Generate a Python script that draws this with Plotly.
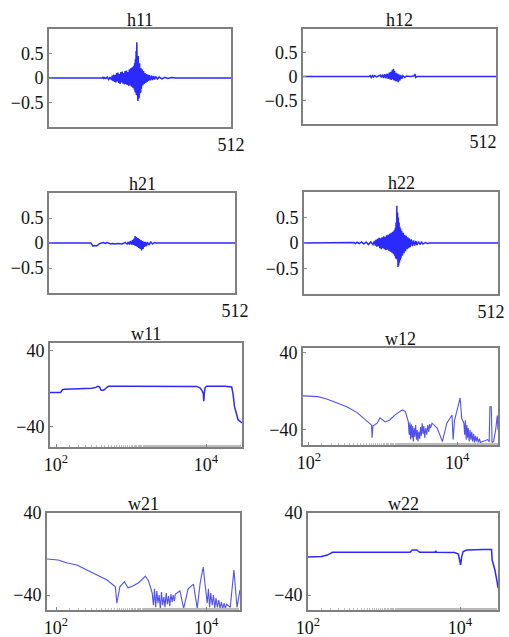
import plotly.graph_objects as go

W, H = 509, 637

# ---------------- data ----------------
h11_n = [0, 150, 152, 154, 156, 160, 164, 168, 172, 176, 178, 180, 182, 184, 186, 188, 190, 192, 194, 196, 198,
         200, 202, 204, 206, 208, 210, 212, 214, 216, 218, 220, 222, 224, 226, 228, 230, 232, 234, 236, 238,
         240, 241, 242, 243, 244, 245, 246, 247, 248, 249, 250, 251, 252, 253, 254, 255, 256, 257, 258, 259,
         260, 262, 264, 266, 268, 270, 272, 274, 276, 278, 280, 282, 285, 288, 291, 294, 297, 300, 305, 310,
         318, 326, 334, 345, 355, 512]
h11_v = [0, 0, 0.02, -0.02, 0.01, -0.01, 0.02, -0.03, 0.02, -0.04, 0.05, -0.06, 0.07, -0.08, 0.06, -0.09, 0.1, -0.07, 0.11, -0.1, 0.08,
         -0.12, 0.12, -0.09, 0.13, -0.11, 0.1, -0.13, 0.14, -0.12, 0.15, -0.14, 0.12, -0.16, 0.18, -0.15, 0.2, -0.18, 0.22, -0.2, 0.25,
         -0.24, 0.3, -0.28, 0.38, -0.3, 0.55, -0.35, 0.73, -0.2, 0.62, -0.47, 0.45, -0.42, 0.35, -0.38, 0.3, -0.3, 0.25, -0.28, 0.2,
         -0.22, 0.18, -0.15, 0.14, -0.12, 0.1, -0.1, 0.08, -0.08, 0.07, -0.06, 0.06, -0.05, 0.05, -0.04, 0.04, -0.03, 0.03, -0.02, 0.02,
         -0.02, 0.015, -0.01, 0.01, 0, 0]

h12_n = [0, 175, 178, 181, 184, 187, 190, 195, 200, 205, 208, 211, 214, 217, 220, 223, 226, 229, 231, 233, 235, 237,
         239, 240, 241, 243, 245, 247, 249, 251, 253, 255, 257, 259, 262, 265, 270, 275, 285, 294, 297, 299, 302, 512]
h12_v = [0, 0, 0.02, -0.02, 0.02, -0.01, 0.02, -0.01, 0.01, 0.03, -0.02, 0.04, -0.03, 0.05, -0.04, 0.06, -0.05, 0.08, -0.06, 0.1, -0.07, 0.14,
         -0.05, 0.16, -0.08, 0.12, -0.1, 0.08, -0.1, 0.06, -0.12, 0.04, -0.08, 0.03, -0.05, 0.02, -0.02, 0.01, 0, 0.01, 0.05, -0.02, 0, 0]

h21_n = [0, 115, 118, 121, 125, 130, 135, 140, 145, 150, 155, 160, 170, 175, 180, 190, 200, 210, 215, 218, 221, 224,
         227, 230, 232, 234, 236, 237, 239, 241, 243, 245, 247, 249, 251, 253, 255, 257, 259, 261, 263, 265, 268,
         271, 275, 280, 285, 290, 295, 512]
h21_v = [0, 0, -0.03, -0.06, -0.05, -0.06, -0.04, -0.01, 0, 0.01, -0.01, 0.01, -0.02, -0.01, -0.02, -0.01, -0.02, 0.01, -0.02, 0.02, -0.03, 0.04,
         -0.03, 0.06, -0.04, 0.09, -0.05, 0.14, -0.06, 0.12, -0.08, 0.1, -0.1, 0.08, -0.12, 0.06, -0.15, 0.04, -0.12, 0.03, -0.08, 0.02, -0.06,
         0.02, -0.04, 0.02, -0.02, 0.01, 0, 0]

h22_n = [0, 128, 132, 136, 140, 146, 152, 158, 164, 170, 176, 182, 186, 188, 190, 192, 194, 196, 198, 200, 202, 204,
         206, 208, 210, 212, 214, 216, 218, 220, 222, 224, 226, 228, 230, 232, 234, 236, 238, 240, 241, 242, 243,
         244, 245, 246, 247, 248, 249, 250, 251, 252, 253, 254, 255, 256, 258, 260, 262, 264, 266, 268, 270, 272,
         274, 276, 278, 280, 283, 286, 289, 292, 295, 298, 302, 306, 310, 314, 320, 326, 332, 512]
h22_v = [0, 0, 0.01, -0.01, 0.015, -0.01, 0.02, -0.02, 0.02, -0.03, 0.02, -0.03, 0.04, -0.05, 0.06, -0.07, 0.08, -0.06, 0.1, -0.1, 0.09, -0.12,
         0.11, -0.1, 0.13, -0.12, 0.12, -0.14, 0.15, -0.13, 0.16, -0.15, 0.18, -0.17, 0.2, -0.19, 0.22, -0.22, 0.25, -0.26, 0.3, -0.3, 0.4,
         -0.32, 0.73, -0.3, 0.6, -0.47, 0.5, -0.44, 0.4, -0.38, 0.32, -0.34, 0.28, -0.3, 0.24, -0.25, 0.2, -0.2, 0.16, -0.16, 0.14, -0.12,
         0.11, -0.1, 0.09, -0.08, 0.07, -0.06, 0.05, -0.05, 0.04, -0.04, 0.03, -0.03, 0.02, -0.02, 0.01, -0.01, 0, 0]

w11_f = [83, 100, 115, 122, 130, 200, 300, 340, 360, 380, 400, 430, 470, 500, 1000, 2000, 3000, 5000, 7500,
         8300, 8800, 9200, 9350, 9500, 9700, 10200, 13000, 18000, 22000, 22900, 24000, 25700, 26800, 30200]
w11_db = [-4, -4, -3.8, -1, -0.5, 0, 0.5, 1.5, 2.7, 2, -1.5, -1.6, 1, 2.7, 2.7, 2.5, 3, 2.7, 2.5,
          1, -1.6, -5, -13, -4, 1, 2.7, 2.9, 2.7, 2, -5, -18.7, -28, -32.5, -35.7]

w12_f = [83, 132, 174, 240, 324, 447, 575, 700, 710, 730, 830, 910, 1070, 1230, 1450, 1820, 2000, 2190,
         2250, 2300, 2350, 2400, 2450, 2500, 2560, 2620, 2680, 2750, 2820, 2890, 2960, 3040, 3120, 3200, 3280,
         3370, 3460, 3550, 3650, 3760, 3880, 4000, 4130, 4250, 4370,
         4570, 5370, 6310, 7240, 8510, 8800, 9200, 10000, 10960, 11500, 12300,
         12600, 12900, 13200, 13500, 13800, 14100, 14500, 14900, 15300, 15700, 16100, 16600, 17000, 17500,
         18000, 18600, 19200, 19900, 20500,
         22400, 25700, 27000, 27600, 28800, 29500, 30900, 33000, 34700, 35500]
w12_db = [-4.7, -5.4, -7.8, -12, -16, -22, -29.6, -35, -48, -36, -33, -27.5, -31.7, -29.6, -24.4, -19.2, -21, -31.7,
          -45, -32, -50, -34, -48, -36, -52, -38, -47, -35, -50, -40, -52, -42, -49, -37, -46,
          -33, -44, -36, -48, -38, -45, -35, -42, -34, -38,
          -33, -38, -52, -33, -24.4, -50, -30, -19, -6.8, -28, -33,
          -45, -30, -50, -35, -48, -38, -52, -40, -50, -42, -52, -44, -53, -46,
          -52, -47, -53, -49, -53,
          -52, -50, -52, -16, -16, -53, -52, -40, -25, -40]

w21_f = [76, 107, 141, 190, 257, 355, 479, 617, 646, 708, 813, 912, 1070, 1260, 1550, 1700, 1910,
         1980, 2050, 2120, 2200, 2280, 2360, 2450, 2540, 2630, 2730, 2830, 2930, 3040, 3150, 3270, 3390,
         3510, 3640, 3770, 3890,
         4470, 5010, 5750, 6760, 7590, 8320, 9120, 9770,
         10300, 10700, 11100, 11500, 12000, 12500, 13000, 13500, 14100, 14700, 15300, 15900, 16600, 17300,
         18000, 18700,
         20900, 23400, 25700, 28200]
w21_db = [-4.9, -5.9, -8.8, -10.7, -15.6, -20.5, -25.4, -32, -48, -32, -27, -33, -31, -28, -21.5, -26, -38,
          -50, -34, -52, -36, -48, -40, -53, -37, -50, -42, -52, -38, -49, -41, -51, -39,
          -47, -40, -46, -39,
          -36, -53, -34, -29.4, -53, -28, -12.7, -36,
          -48, -34, -52, -38, -50, -40, -53, -43, -52, -45, -53, -47, -53, -48,
          -53, -49,
          -52, -15.6, -52, -35]

w22_f = [100, 150, 180, 210, 500, 1000, 2000, 2200, 2350, 2700, 2950, 4700, 4800, 4900, 8500, 9500, 10200,
         10500, 11000, 12300, 20000, 26000, 26500, 28800, 30900, 31600]
w22_db = [-3, -2.5, -1, 1.7, 1.7, 1.7, 1.7, 1.7, 3.9, 3.9, 1.7, 1.7, 3, 1.7, 1.5, 0, -10.7,
          -3, 2.5, 3.9, 4.5, 4.5, -6, -15.6, -28, -33]

titles = ["h11", "h12", "h21", "h22", "w11", "w12", "w21", "w22"]
h_ticks = [-0.5, 0, 0.5]
w_ticks = [-40, 40]
w_tickvals = [100, 10000]
w_ticktext = ["10<sup>2</sup>", "10<sup>4</sup>"]

# ---------------- layout geometry (pixels) ----------------
boxes = [  # left, right, top, bottom
    (49, 231, 29, 127), (303, 496, 29, 124),
    (49, 235, 193, 293), (304, 498, 192, 294),
    (50, 242, 343, 447), (303, 498, 348, 445),
    (47, 240, 513, 610), (308, 498, 513, 610),
]
w_xranges = [(1.92, 4.48), (1.92, 4.55), (1.88, 4.45), (2.0, 4.5)]
w_yranges = [(-61, 48), (-55.6, 45), (-54.6, 40), (-54.6, 40)]

series = [(h11_n, h11_v), (h12_n, h12_v), (h21_n, h21_v), (h22_n, h22_v),
          (w11_f, w11_db), (w12_f, w12_db), (w21_f, w21_db), (w22_f, w22_db)]

FONT = "Liberation Serif"
fig = go.Figure()
ann = []
for i, ((xs, ys), (l, r, t, b), title) in enumerate(zip(series, boxes, titles)):
    k = "" if i == 0 else str(i + 1)
    smooth = i in (5, 6)
    fig.add_trace(go.Scatter(
        x=xs, y=ys, mode="lines", xaxis="x" + k, yaxis="y" + k,
        line=dict(color="rgba(50,50,235,0.85)" if smooth else "#2a2aff",
                  width=1.1 if smooth else 1.5),
        showlegend=False, hoverinfo="skip"))
    xa = dict(domain=[l / W, r / W], anchor="y" + k, showline=True, mirror=True, automargin=False,
              linecolor="#7f7f7f", linewidth=2, showgrid=False, zeroline=False,
              ticks="inside", ticklen=3, tickcolor="#888", tickfont=dict(family=FONT, size=18, color="#111"))
    ya = dict(domain=[1 - b / H, 1 - t / H], anchor="x" + k, showline=True, mirror=True, automargin=False,
              linecolor="#7f7f7f", linewidth=2, showgrid=False, zeroline=False,
              ticks="inside", ticklen=3, tickcolor="#888", tickfont=dict(family=FONT, size=18, color="#111"))
    if i < 4:
        xa.update(range=[0, 512.01], tickvals=[512], ticktext=["512"], ticklabeloverflow="allow")
        if i in (1, 3):
            xa.update(ticklabelposition="outside left", ticklabelshift=2 if i == 1 else 8)
        ya.update(range=[-1, 1], tickvals=h_ticks, ticktext=["\u22120.5", "0", "0.5"])
    else:
        j = i - 4
        xa.update(type="log", range=list(w_xranges[j]), tickvals=w_tickvals, ticktext=w_ticktext,
                  minor=dict(ticks="inside", ticklen=2, tickcolor="#bbb", showgrid=False))
        ya.update(range=list(w_yranges[j]), tickvals=w_ticks, ticktext=["\u221240", "40"])
    fig.layout["xaxis" + k] = xa
    fig.layout["yaxis" + k] = ya
    ann.append(dict(text=title, x=(l + r) / 2 / W, y=1 - t / H, xref="paper", yref="paper",
                    xanchor="center", yanchor="bottom", showarrow=False, yshift=-3,
                    font=dict(family=FONT, size=18, color="#111")))

fig.update_layout(width=W, height=H, autosize=False,
                  margin=dict(l=0, r=0, t=0, b=0, pad=0, autoexpand=False),
                  paper_bgcolor="white", plot_bgcolor="white", annotations=ann)
fig.write_html("out.html", config={"displayModeBar": False},
               post_script="document.body.style.margin='0px';document.body.style.overflow='hidden';")
